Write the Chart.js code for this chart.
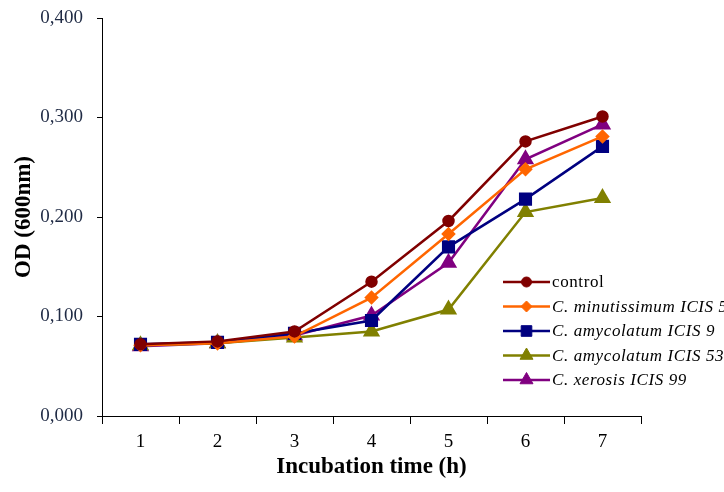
<!DOCTYPE html>
<html>
<head>
<meta charset="utf-8">
<script src="https://cdn.jsdelivr.net/npm/chart.js@4.4.1/dist/chart.umd.min.js"></script>
<style>
  html, body { margin: 0; padding: 0; background: #fff; }
  #wrap { width: 724px; height: 492px; position: relative; }
</style>
</head>
<body>
<div id="wrap"><canvas id="c" width="724" height="492"></canvas></div>
<script>
// Incubation hours
const hours = ['1', '2', '3', '4', '5', '6', '7'];

// OD (600nm) readings per culture
const control        = [0.072, 0.075, 0.085, 0.135, 0.196, 0.276, 0.301];
const minutissimum5  = [0.071, 0.073, 0.080, 0.119, 0.183, 0.248, 0.281];
const amycolatum9    = [0.072, 0.074, 0.083, 0.096, 0.170, 0.218, 0.271];
const amycolatum53   = [0.071, 0.073, 0.079, 0.085, 0.107, 0.205, 0.219];
const xerosis99      = [0.070, 0.073, 0.081, 0.101, 0.154, 0.258, 0.293];

const seriesNames = [
  'control',
  'C. minutissimum ICIS 5',
  'C. amycolatum ICIS 9',
  'C. amycolatum ICIS 53',
  'C. xerosis ICIS 99'
];

const yTicks = [0, 0.1, 0.2, 0.3, 0.4];

const serif = "'Liberation Serif', 'Times New Roman', serif";

function series(label, data, color, style, radius) {
  return {
    label, data,
    borderColor: color,
    backgroundColor: color,
    pointBackgroundColor: color,
    pointBorderColor: color,
    pointStyle: style,
    pointRadius: radius,
    pointHoverRadius: radius,
    borderWidth: 2.5,
    tension: 0,
    fill: false
  };
}

const datasets = [
  series(seriesNames[0], control,       '#800000', 'circle',   5),
  series(seriesNames[1], minutissimum5, '#ff6600', 'rectRot',  5.5),
  series(seriesNames[2], amycolatum9,   '#000080', 'rect',     7.5),
  series(seriesNames[3], amycolatum53,  '#808000', 'triangle', 7.5),
  series(seriesNames[4], xerosis99,     '#800080', 'triangle', 7.5)
];

// Legend drawn inside the plot, lower right
const insideLegend = {
  id: 'insideLegend',
  afterDraw(chart) {
    const ctx = chart.ctx;
    const x0 = 503, x1 = 550, textX = 552;
    const top = 282, step = 24.5;
    ctx.save();
    chart.data.datasets.forEach((ds, i) => {
      const y = top + i * step;
      ctx.strokeStyle = ds.borderColor;
      ctx.lineWidth = 2.5;
      ctx.beginPath();
      ctx.moveTo(x0, y);
      ctx.lineTo(x1, y);
      ctx.stroke();
      ctx.fillStyle = ds.borderColor;
      ctx.strokeStyle = ds.borderColor;
      ctx.lineWidth = 1;
      Chart.helpers.drawPoint(ctx, { pointStyle: ds.pointStyle, radius: ds.pointRadius, borderWidth: 1 }, (x0 + x1) / 2, y);
      ctx.fillStyle = '#000';
      ctx.textBaseline = 'middle';
      ctx.textAlign = 'left';
      ctx.letterSpacing = '0.6px';
      ctx.font = (i === 0 ? '' : 'italic ') + '17px ' + serif;
      ctx.fillText(ds.label, textX, y + 1);
    });
    ctx.restore();
  }
};

new Chart(document.getElementById('c'), {
  type: 'line',
  data: { labels: hours, datasets },
  options: {
    responsive: false,
    animation: false,
    devicePixelRatio: 1,
    layout: { padding: { left: 0, right: 83, top: 18, bottom: 0 } },
    plugins: {
      legend: { display: false },
      tooltip: { enabled: false }
    },
    scales: {
      x: {
        type: 'category',
        offset: true,
        grid: {
          offset: true,
          drawOnChartArea: false,
          drawTicks: true,
          tickLength: 8,
          color: '#000',
          lineWidth: 1
        },
        border: { display: true, color: '#000', width: 1 },
        ticks: {
          color: '#000',
          font: { family: serif, size: 19 },
          padding: 7,
          maxRotation: 0
        },
        title: {
          display: true,
          text: 'Incubation time (h)',
          color: '#000',
          font: { family: serif, size: 23, weight: 'bold' },
          padding: { top: 0, bottom: 11 }
        },
        afterFit(scale) {
          scale.height = 76;
          scale.paddingLeft = 0;
          scale.paddingRight = 0;
        }
      },
      y: {
        min: 0,
        max: 0.4,
        afterBuildTicks(scale) { scale.ticks = yTicks.map(v => ({ value: v })); },
        grid: {
          drawOnChartArea: false,
          drawTicks: true,
          tickLength: 5,
          color: '#000',
          lineWidth: 1
        },
        border: { display: true, color: '#000', width: 1 },
        ticks: {
          color: '#1f2a44',
          font: { family: serif, size: 19 },
          padding: 14,
          callback: v => v.toFixed(3).replace('.', ',')
        },
        title: {
          display: true,
          text: 'OD (600nm)',
          color: '#000',
          font: { family: serif, size: 23, weight: 'bold' },
          padding: { top: 10, bottom: 0 }
        },
        afterFit(scale) {
          scale.width = 102;
          scale.paddingTop = 0;
          scale.paddingBottom = 0;
        }
      }
    }
  },
  plugins: [insideLegend]
});
</script>
</body>
</html>
